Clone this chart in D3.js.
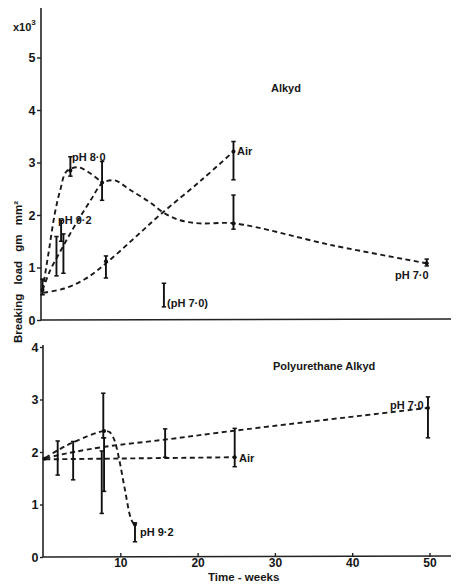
<!DOCTYPE html>
<html lang="en">
<head>
<meta charset="utf-8">
<script src="https://d3js.org/d3.v7.min.js"></script>
<style>
body { margin: 0; background: #fff; }
text { font-family: "Liberation Sans", Arial, sans-serif; font-weight: bold; fill: #161616; }
</style>
</head>
<body>
<svg width="457" height="584"></svg>
<script>
// values: [week, breaking load x10^3 gm/mm2]
var xTicks = [10, 20, 30, 40, 50];
var topTicks = [0, 1, 2, 3, 4, 5];
var botTicks = [0, 1, 2, 3, 4];

// Alkyd
var alkPH80 = [[0.2,0.57],[1,1.3],[1.8,2.04],[2.5,2.48],[3.3,2.83],[4.8,2.91],[6.1,2.82],[7.9,2.62]];
var alkPH70 = [[0.2,0.57],[1.2,0.95],[2.4,1.28],[3.6,1.6],[5,1.95],[6.5,2.3],[7.9,2.6],[9.5,2.66],[11.5,2.48],[14,2.25],[16,2.03],[18,1.9],[20.5,1.84],[25,1.84],[37.8,1.42],[49.9,1.08]];
var alkAir = [[0.3,0.52],[3,0.6],[5.7,0.78],[8.4,1.08],[12,1.55],[15.6,2.03],[20.8,2.67],[24.9,3.21]];
// error bars [week, low, high]
var alkBars = [[0.2,0.48,0.78],[2,0.84,1.59],[2.6,1.5,1.9],[2.9,0.89,1.64],[3.8,2.74,3.11],[7.9,2.28,3.02],
  [8.4,0.8,1.22],[15.9,0.25,0.7],[24.9,2.67,3.4],[24.9,1.73,2.38],[49.9,1.03,1.16]];
var alkDots = [[0.2,0.57],[3.8,2.85],[7.9,2.62],[8.4,1.12],[24.9,3.21],[24.9,1.84],[49.9,1.08]];

// Polyurethane alkyd
var puPH70 = [[0.3,1.88],[2,1.94],[4,2.0],[8,2.1],[16,2.24],[25,2.41],[49.8,2.84]];
var puAir = [[0.3,1.86],[24.8,1.9]];
var puPH92 = [[0.3,1.89],[2,2.04],[4,2.19],[7.9,2.4],[8.6,2.38],[9.2,2.24],[9.8,1.9],[10.6,1.28],[11.4,0.72],[11.9,0.6]];
var puBars = [[1.9,1.56,2.21],[3.9,1.47,2.2],[7.8,2.27,3.12],[7.9,1.25,2.27],[7.6,0.83,2.02],
  [15.8,1.9,2.44],[24.8,1.72,2.45],[49.8,2.27,3.05],[11.9,0.29,0.65]];
var puDots = [[0.2,1.87],[7.9,2.4],[11.9,0.62],[24.8,1.9],[49.8,2.84]];

var svg = d3.select("svg");

var xTop = d3.scaleLinear().domain([0, 50]).range([41, 427.5]);
var yTop = d3.scaleLinear().domain([0, 5]).range([320, 57.5]);
var xBot = d3.scaleLinear().domain([0, 50]).range([43, 429.5]);
var yBot = d3.scaleLinear().domain([0, 4]).range([557, 347]);

function panel(x, y, ticks, tickLen, curves, bars, dots, yTopEnd) {
  var g = svg.append("g");

  // axis lines
  g.append("line")
    .attr("x1", x(0)).attr("x2", x(0))
    .attr("y1", y(0)).attr("y2", yTopEnd)
    .attr("stroke", "#222").attr("stroke-width", 1.6);
  g.append("line")
    .attr("x1", x(0)).attr("x2", 451)
    .attr("y1", y(0)).attr("y2", y(0) - 1)
    .attr("stroke", "#222").attr("stroke-width", 1.6);

  var ya = g.append("g")
    .attr("transform", "translate(" + x(0) + ",0)")
    .call(d3.axisLeft(y).tickValues(ticks).tickFormat(d3.format("d"))
      .tickSizeInner(tickLen).tickSizeOuter(0).tickPadding(1.5));
  ya.select(".domain").remove();
  ya.selectAll(".tick line").attr("stroke", "#222").attr("stroke-width", 1.4);
  ya.selectAll(".tick text").attr("font-size", 12.5).attr("font-family", null).attr("fill", "#161616");

  var line = d3.line()
    .x(function (d) { return x(d[0]); })
    .y(function (d) { return y(d[1]); })
    .curve(d3.curveCatmullRom.alpha(0.5));

  g.selectAll(".curve")
    .data(curves)
    .enter().append("path")
    .attr("class", "curve")
    .attr("d", line)
    .attr("fill", "none")
    .attr("stroke", "#1a1a1a")
    .attr("stroke-width", 1.9)
    .attr("stroke-dasharray", "5,3.5");

  var eb = g.selectAll(".bar")
    .data(bars)
    .enter().append("g")
    .attr("class", "bar");
  eb.append("line")
    .attr("x1", function (d) { return x(d[0]); })
    .attr("x2", function (d) { return x(d[0]); })
    .attr("y1", function (d) { return y(d[1]); })
    .attr("y2", function (d) { return y(d[2]); })
    .attr("stroke", "#111").attr("stroke-width", 1.9);
  [1, 2].forEach(function (k) {
    eb.append("line")
      .attr("x1", function (d) { return x(d[0]) - 2.2; })
      .attr("x2", function (d) { return x(d[0]) + 2.2; })
      .attr("y1", function (d) { return y(d[k]); })
      .attr("y2", function (d) { return y(d[k]); })
      .attr("stroke", "#111").attr("stroke-width", 1.5);
  });

  g.selectAll(".dot")
    .data(dots)
    .enter().append("circle")
    .attr("class", "dot")
    .attr("cx", function (d) { return x(d[0]); })
    .attr("cy", function (d) { return y(d[1]); })
    .attr("r", 2)
    .attr("fill", "#111");
  return g;
}

panel(xTop, yTop, topTicks, 4, [alkPH80, alkPH70, alkAir], alkBars, alkDots, 8);
var bot = panel(xBot, yBot, botTicks, 3, [puPH70, puAir, puPH92], puBars, puDots, 345);

// time axis ticks
var xa = bot.append("g")
  .attr("transform", "translate(0," + yBot(0) + ")")
  .call(d3.axisBottom(xBot).tickValues(xTicks).tickSizeInner(-4).tickSizeOuter(0).tickPadding(1));
xa.select(".domain").remove();
xa.selectAll(".tick line").attr("stroke", "#222").attr("stroke-width", 1.4);
xa.selectAll(".tick text").attr("font-size", 12).attr("font-family", null).attr("fill", "#161616");

// labels
function label(txt, px, py, size, anchor) {
  return svg.append("text")
    .attr("x", px).attr("y", py)
    .attr("font-size", size)
    .attr("text-anchor", anchor || "start")
    .text(txt);
}

label("Alkyd", 271, 92, 11);
label("pH 8·0", 72, 161, 11);
label("pH 9·2", 58, 224, 11);
label("Air", 237, 155, 11);
label("pH 7·0", 395, 279, 11);
label("(pH 7·0)", 167, 307, 11);

label("Polyurethane Alkyd", 273, 370, 11);
label("pH 7·0", 390, 409, 11);
label("Air", 239, 462, 11);
label("pH 9·2", 140, 536, 11);

label("Time - weeks", 208, 581, 11.5);

var xt = label("x10", 13, 31, 11);
xt.append("tspan").attr("dy", -6).attr("font-size", 8).text("3");

svg.append("text")
  .attr("transform", "translate(22,272) rotate(-90)")
  .attr("text-anchor", "middle")
  .attr("font-size", 11.5)
  .attr("word-spacing", 6)
  .text("Breaking load gm mm²");
</script>
</body>
</html>
